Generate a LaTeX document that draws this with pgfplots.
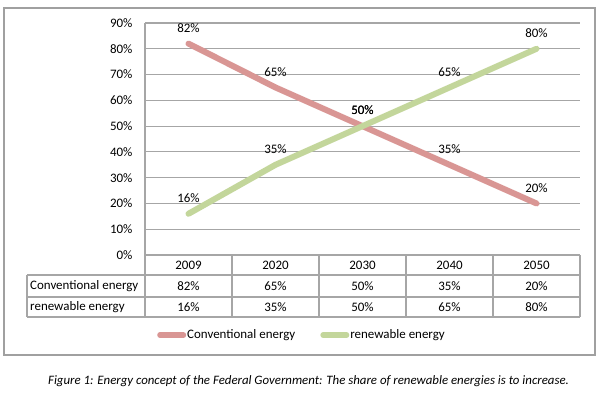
\documentclass[border=0pt]{standalone}
\usepackage{pgfplots}
\pgfplotsset{compat=1.18}
\usepackage{pgfplotstable}
\usepackage{fontspec}
\setmainfont{Carlito}
\definecolor{convred}{HTML}{D99694}
\definecolor{rengreen}{HTML}{C3D69B}
\definecolor{gridgray}{HTML}{A6A6A6}
\definecolor{framegray}{HTML}{A0A0A0}
\pgfplotstableread{
x year conv ren
0 2009 82 16
1 2020 65 35
2 2030 50 50
3 2040 35 65
4 2050 20 80
}\energy
\begin{document}
\begin{tikzpicture}[x=1bp,y=1bp]
\useasboundingbox (0,0) rectangle (600,-392);
\fill[white] (0,0) rectangle (600,-392);
\draw[framegray, line width=1.2bp] (4,-8) rectangle (595,-355);
\begin{axis}[
  at={(145bp,-255bp)}, anchor=south west,
  scale only axis, width=435bp, height=232bp,
  xmin=-0.5, xmax=4.5, ymin=0, ymax=90,
  axis line style={draw=none},
  axis x line*=bottom, axis y line*=left,
  ytick={0,10,...,90},
  yticklabel={\pgfmathprintnumber{\tick}\%},
  xtick=data, xticklabels={2009,2020,2030,2040,2050},
  major tick length=0pt,
  ymajorgrids, major grid style={gridgray, line width=1.2bp},
  font=\fontsize{13}{15}\selectfont,
  /pgf/number format/assume math mode=true,
  yticklabel style={anchor=east, xshift=-9bp},
  xticklabel style={anchor=center, yshift=-10bp},
  clip=false,
  legend style={at={(0.0276,-0.345)}, anchor=west, draw=none, fill=none,
    legend columns=2, font=\fontsize{13}{15}\selectfont,
    /tikz/every even column/.append style={column sep=24bp},
    inner sep=0pt, nodes={inner sep=1bp}},
  legend image code/.code={\draw[#1, line width=5.5bp, line cap=round] (2.5bp,0bp) -- (26bp,0bp);},
  legend cell align=left,
]
\addplot[convred, line width=6bp, line cap=round, line join=round,
  nodes near coords={\pgfmathprintnumber{\pgfplotspointmeta}\%},
  point meta=y,
  every node near coord/.append style={black, anchor=south, yshift=5bp, font=\fontsize{13}{15}\selectfont}]
  table[x=x, y=conv] {\energy};
\addlegendentry{Conventional energy}
\addplot[rengreen, line width=6bp, line cap=round, line join=round,
  nodes near coords={\pgfmathprintnumber{\pgfplotspointmeta}\%},
  point meta=y,
  every node near coord/.append style={black, anchor=south, yshift=5bp, font=\fontsize{13}{15}\selectfont}]
  table[x=x, y=ren] {\energy};
\addlegendentry{renewable energy}
% table row values
\addplot[draw=none, forget plot, point meta=explicit,
  nodes near coords={\pgfmathprintnumber{\pgfplotspointmeta}\%},
  nodes near coords align=center,
  every node near coord/.append style={black, anchor=center, font=\fontsize{13}{15}\selectfont}]
  table[x=x, y expr=-12.1, meta=conv] {\energy};
\addplot[draw=none, forget plot, point meta=explicit,
  nodes near coords={\pgfmathprintnumber{\pgfplotspointmeta}\%},
  nodes near coords align=center,
  every node near coord/.append style={black, anchor=center, font=\fontsize{13}{15}\selectfont}]
  table[x=x, y expr=-20.3, meta=ren] {\energy};
\end{axis}
% data table grid
\begin{scope}[gridgray, line width=1.2bp]
  \draw (145,-255) -- (145,-23);
  \draw (145,-255) -- (580,-255);
  \draw (27,-275) -- (580,-275);
  \draw (27,-297) -- (580,-297);
  \draw (27,-317) -- (580,-317);
  \draw (27,-275) -- (27,-317);
  \foreach \xx in {145,232,319,406,493,580} \draw (\xx,-255) -- (\xx,-317);
\end{scope}
\node[anchor=west, font=\fontsize{13}{15}\selectfont, inner sep=0pt] at (30,-286) {Conventional energy};
\node[anchor=west, font=\fontsize{13}{15}\selectfont, inner sep=0pt] at (30,-307) {renewable energy};
\node[font=\fontsize{12.9}{14}\selectfont\itshape, inner sep=0pt] at (308.5,-381) {Figure 1: Energy concept of the Federal Government: The share of renewable energies is to increase.};
\end{tikzpicture}
\end{document}
